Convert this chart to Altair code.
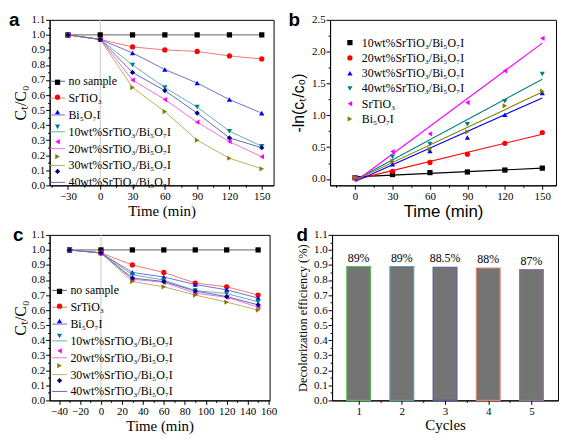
import altair as alt
import pandas as pd

SERIF = "Liberation Serif"
SANS = "Liberation Sans"

# ---------------- data ----------------
time_ac = [-30, 0, 30, 60, 90, 120, 150]
names_ac = ["no sample", "SrTiO₃", "Bi₅O₇I", "10wt%SrTiO₃/Bi₅O₇I",
            "20wt%SrTiO₃/Bi₅O₇I", "30wt%SrTiO₃/Bi₅O₇I", "40wt%SrTiO₃/Bi₅O₇I"]

a_no_sample = [1.00, 1.00, 1.00, 1.00, 1.00, 1.00, 1.00]
a_srtio3 = [1.00, 0.97, 0.92, 0.90, 0.89, 0.86, 0.84]
a_bi5o7i = [1.00, 0.97, 0.88, 0.77, 0.68, 0.57, 0.48]
a_10wt = [1.00, 0.97, 0.80, 0.65, 0.52, 0.36, 0.26]
a_20wt = [1.00, 0.97, 0.70, 0.57, 0.42, 0.29, 0.19]
a_30wt = [1.00, 0.97, 0.65, 0.49, 0.30, 0.18, 0.11]
a_40wt = [1.00, 0.97, 0.75, 0.63, 0.48, 0.315, 0.25]

c_no_sample = [1.00, 1.00, 1.00, 1.00, 1.00, 1.00, 1.00]
c_srtio3 = [1.00, 0.98, 0.90, 0.85, 0.78, 0.755, 0.70]
c_bi5o7i = [1.00, 0.98, 0.85, 0.82, 0.77, 0.735, 0.68]
c_10wt = [1.00, 0.98, 0.835, 0.80, 0.73, 0.71, 0.655]
c_20wt = [1.00, 0.98, 0.805, 0.785, 0.713, 0.685, 0.62]
c_30wt = [1.00, 0.98, 0.79, 0.755, 0.70, 0.653, 0.60]
c_40wt = [1.00, 0.98, 0.813, 0.79, 0.727, 0.69, 0.635]

time_b = [0, 30, 60, 90, 120, 150]
names_b = ["10wt%SrTiO₃/Bi₅O₇I", "20wt%SrTiO₃/Bi₅O₇I", "30wt%SrTiO₃/Bi₅O₇I",
           "40wt%SrTiO₃/Bi₅O₇I", "SrTiO₃", "Bi₅O₇I"]
b_10wt = [0.02, 0.07, 0.10, 0.11, 0.14, 0.17]
b_20wt = [0.02, 0.12, 0.26, 0.39, 0.56, 0.73]
b_30wt = [0.02, 0.23, 0.44, 0.65, 1.01, 1.35]
b_40wt = [0.02, 0.35, 0.55, 0.86, 1.22, 1.65]
b_srtio3 = [0.02, 0.43, 0.71, 1.20, 1.70, 2.21]
b_bi5o7i = [0.02, 0.28, 0.47, 0.74, 1.15, 1.38]

cycles = [1, 2, 3, 4, 5]
efficiency = [0.89, 0.89, 0.885, 0.88, 0.87]
eff_labels = ["89%", "89%", "88.5%", "88%", "87%"]

# tick values
y_major_ac = [round(i * 0.1, 1) for i in range(12)]
y_minor_ac = [round(0.05 + i * 0.1, 2) for i in range(11)]
x_major_a = [-30, 0, 30, 60, 90, 120, 150]
x_minor_a = [-45, -15, 15, 45, 75, 105, 135]
x_major_c = [-40, -20, 0, 20, 40, 60, 80, 100, 120, 140, 160]
x_minor_c = [-30, -10, 10, 30, 50, 70, 90, 110, 130, 150]
x_major_b = [0, 30, 60, 90, 120, 150]
x_minor_b = [-15, 15, 45, 75, 105, 135]
y_major_b = [0.0, 0.5, 1.0, 1.5, 2.0, 2.5]
y_minor_b = [0.25, 0.75, 1.25, 1.75, 2.25]
x_minor_d = [1.5, 2.5, 3.5, 4.5]

# ---------------- styles ----------------
marker_colors = ["#000000", "#ff0000", "#0000ff", "#008080", "#ff00ff", "#808000", "#000080"]
line_colors = ["#606060", "#f07878", "#7070d8", "#66b0b0", "#f070f0", "#b4b464", "#6868b0"]
shapes_ac = ["square", "circle", "triangle-up", "triangle-down", "triangle-left",
             "triangle-right", "diamond"]
colors_b = ["#000000", "#ff0000", "#0000ff", "#008080", "#ff00ff", "#808000"]
shapes_b = ["square", "circle", "triangle-up", "triangle-down", "triangle-left", "triangle-right"]
bar_strokes = ["#5cb85c", "#5aa0a0", "#5a5aa8", "#e08a70", "#a070a8"]

PH = 167  # plot height of every panel


def long_df(times, names, series):
    rows = []
    for name, vals in zip(names, series):
        for t, v in zip(times, vals):
            rows.append({"t": t, "v": v, "series": name})
    return pd.DataFrame(rows)


def major_axis(orient, values, title, fmt=None, title_font=SERIF, title_size=15,
               title_pad=4):
    kw = dict(orient=orient, values=values, title=title, tickSize=4, tickColor="black",
              tickWidth=1, domainColor="black", labelFont=SERIF, labelFontSize=11,
              labelColor="black", labelPadding=1, labelOverlap=False, labelFlush=False,
              titleFont=title_font, titleFontSize=title_size, titleFontWeight="normal",
              titleColor="black", titlePadding=title_pad, grid=False)
    if fmt:
        kw["format"] = fmt
    return alt.Axis(**kw)


def minor_axis(orient, values):
    return alt.Axis(orient=orient, values=values, labels=False, title=None, tickSize=2,
                    tickColor="black", domain=False, grid=False)


def letter(ch, dx):
    return alt.Chart(pd.DataFrame({"lab": [ch]})).mark_text(
        font=SANS, fontSize=19, fontWeight="bold", align="left", baseline="alphabetic",
        color="black").encode(text="lab:N", x=alt.value(dx), y=alt.value(6))


def ct_panel(df, xdom, xmaj, xmin, w, legx, legy, ch, chdx):
    xs = alt.Scale(domain=xdom, nice=False, zero=False)
    ys = alt.Scale(domain=[0, 1.1], nice=False, zero=False)
    base = alt.Chart(df)
    rule = alt.Chart(pd.DataFrame({"z": [0]})).mark_rule(color="#c8c8c8", strokeWidth=1).encode(
        x=alt.X("z:Q", scale=xs, axis=None))
    lines = base.mark_line(strokeWidth=1).encode(
        x=alt.X("t:Q", scale=xs, axis=minor_axis("bottom", xmin)),
        y=alt.Y("v:Q", scale=ys, axis=minor_axis("left", y_minor_ac)),
        color=alt.Color("series:N", scale=alt.Scale(domain=names_ac, range=line_colors),
                        legend=alt.Legend(orient="none", legendX=legx, legendY=legy,
                                          title=None, symbolType="stroke", symbolSize=225,
                                          symbolStrokeWidth=1, rowPadding=3, padding=0,
                                          labelFont=SERIF, labelFontSize=12, labelOffset=3,
                                          labelColor="black", labelLimit=0)),
        order="t:Q")
    # marker legend laid over the line legend (its labels are blank)
    leg_m = alt.Legend(orient="none", legendX=legx + 2, legendY=legy + 3,
                       title=None, symbolSize=28, symbolStrokeWidth=0,
                       rowPadding=3, padding=0, labelFont=SERIF, labelExpr="' '",
                       labelFontSize=12, labelOffset=3, labelOpacity=0, labelLimit=0)
    pts = base.mark_point(filled=True, size=28, opacity=1).encode(
        x=alt.X("t:Q", scale=xs, axis=major_axis("bottom", xmaj, "Time (min)", title_pad=2)),
        y=alt.Y("v:Q", scale=ys, axis=major_axis("left", y_major_ac, "Cₜ/C₀", ".1f",
                                                 title_size=16, title_pad=3)),
        color=alt.Color("series:N", scale=alt.Scale(domain=names_ac, range=marker_colors),
                        legend=leg_m),
        shape=alt.Shape("series:N", scale=alt.Scale(domain=names_ac, range=shapes_ac),
                        legend=leg_m))
    return alt.layer(rule, lines, pts, letter(ch, chdx)).resolve_scale(
        color="independent", shape="independent").resolve_legend(
        color="independent", shape="independent").resolve_axis(
        x="independent", y="independent").properties(width=w, height=PH)


df_a = long_df(time_ac, names_ac, [a_no_sample, a_srtio3, a_bi5o7i, a_10wt, a_20wt, a_30wt, a_40wt])
df_c = long_df(time_ac, names_ac, [c_no_sample, c_srtio3, c_bi5o7i, c_10wt, c_20wt, c_30wt, c_40wt])
df_b = long_df(time_b, names_b, [b_10wt, b_20wt, b_30wt, b_40wt, b_srtio3, b_bi5o7i])

panel_a = ct_panel(df_a, [-47, 161], x_major_a, x_minor_a, 226, 0, 54, "a", -41)
panel_c = ct_panel(df_c, [-49, 161], x_major_c, x_minor_c, 222, 2, 48, "c", -37)

# ---------------- panel b ----------------
xs_b = alt.Scale(domain=[-20, 161], nice=False, zero=False)
ys_b = alt.Scale(domain=[-0.1, 2.5], nice=False, zero=False)
fit = alt.Chart(df_b).transform_regression("t", "v", groupby=["series"]).mark_line(
    strokeWidth=1.1).encode(
    x=alt.X("t:Q", scale=xs_b, axis=minor_axis("bottom", x_minor_b)),
    y=alt.Y("v:Q", scale=ys_b, axis=minor_axis("left", y_minor_b)),
    color=alt.Color("series:N", scale=alt.Scale(domain=names_b, range=colors_b), legend=None))
leg_b = alt.Legend(orient="none", legendX=14, legendY=17, title=None,
                   symbolSize=28, symbolStrokeWidth=0, rowPadding=3.4,
                   padding=0, labelFont=SERIF, labelFontSize=12,
                   labelOffset=6, labelColor="black", labelLimit=0)
pts_b = alt.Chart(df_b).mark_point(filled=True, size=28, opacity=1).encode(
    x=alt.X("t:Q", scale=xs_b, axis=major_axis("bottom", x_major_b, "Time (min)",
                                               title_font=SANS, title_size=17, title_pad=2)),
    y=alt.Y("v:Q", scale=ys_b, axis=major_axis("left", y_major_b, "-ln(cₜ/c₀)", ".1f",
                                               title_font=SANS, title_size=16, title_pad=5)),
    color=alt.Color("series:N", scale=alt.Scale(domain=names_b, range=colors_b), legend=leg_b),
    shape=alt.Shape("series:N", scale=alt.Scale(domain=names_b, range=shapes_b), legend=leg_b))
panel_b = alt.layer(fit, pts_b, letter("b", -42)).resolve_scale(
    color="independent", shape="independent").resolve_axis(
    x="independent", y="independent").properties(width=228, height=PH)

# ---------------- panel d ----------------
df_d = pd.DataFrame({"cycle": cycles, "eff": efficiency, "lab": eff_labels})
xs_d = alt.Scale(domain=[0.5, 5.5], nice=False, zero=False)
ys_d = alt.Scale(domain=[0, 1.1], nice=False, zero=False)
bars = alt.Chart(df_d).mark_bar(size=24, fill="#747474", strokeWidth=1.2).encode(
    x=alt.X("cycle:Q", scale=xs_d, axis=major_axis("bottom", cycles, "Cycles", "d", title_pad=1)),
    y=alt.Y("eff:Q", scale=ys_d, axis=major_axis("left", y_major_ac,
                                                 "Decolorization efficiency (%)", ".1f",
                                                 title_size=12.5, title_pad=4)),
    stroke=alt.Stroke("cycle:N", scale=alt.Scale(domain=cycles, range=bar_strokes), legend=None))
labels_d = alt.Chart(df_d).mark_text(font=SERIF, fontSize=12, baseline="bottom", dy=-2,
                                     color="black").encode(
    x=alt.X("cycle:Q", scale=xs_d, axis=minor_axis("bottom", x_minor_d)),
    y=alt.Y("eff:Q", scale=ys_d, axis=minor_axis("left", y_minor_ac)),
    text="lab:N")
panel_d = alt.layer(bars, labels_d, letter("d", -36)).resolve_scale(stroke="independent").resolve_axis(
    x="independent", y="independent").properties(width=228, height=PH)

row1 = alt.hconcat(panel_a, panel_b, spacing=13).resolve_scale(
    color="independent", shape="independent", stroke="independent")
row2 = alt.hconcat(panel_c, panel_d, spacing=18).resolve_scale(
    color="independent", shape="independent", stroke="independent")

chart = alt.vconcat(row1, row2, spacing=5).resolve_scale(
    color="independent", shape="independent", stroke="independent").properties(
    padding={"left": 0, "top": 0, "right": 0, "bottom": 0}
).configure_view(stroke="black", strokeWidth=1)

chart.save("out.html", embed_options={"renderer": "svg", "actions": False})
